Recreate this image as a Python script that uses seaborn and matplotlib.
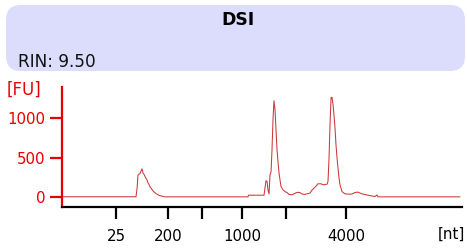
import matplotlib

matplotlib.use("Agg")
import matplotlib.pyplot as plt
import pandas as pd
import seaborn as sns
from matplotlib.patches import FancyBboxPatch

# Electropherogram trace: migration time [s] and fluorescence [FU]
time_s = [
    19.0, 28.25, 28.38, 28.5, 28.75, 28.88, 29.0, 29.13, 29.25, 29.38,
    29.5, 29.63, 29.75, 29.88, 30.0, 30.13, 30.25, 30.38, 30.5, 30.63,
    30.75, 31.0, 31.25, 31.5, 31.88, 42.25, 42.31, 44.25, 44.38, 44.5,
    44.63, 44.75, 44.88, 45.0, 45.13, 45.25, 45.38, 45.5, 45.63, 45.75,
    45.88, 46.0, 46.13, 46.25, 46.38, 46.63, 46.88, 47.13, 47.38, 47.75,
    48.25, 48.5, 48.75, 49.0, 49.38, 49.75, 50.0, 50.25, 50.5, 50.75,
    51.0, 51.38, 51.63, 51.88, 52.13, 52.25, 52.38, 52.5, 52.63, 52.75,
    52.88, 53.0, 53.13, 53.25, 53.38, 53.5, 53.63, 53.75, 54.0, 54.38,
    54.88, 55.25, 55.63, 56.0, 56.5, 57.0, 57.5, 58.13, 58.38, 58.5,
    68.75,
]
fluorescence = [
    5, 5, 110, 280, 300, 330, 360, 305, 290, 262,
    240, 220, 180, 160, 131, 115, 97, 80, 67, 55,
    46, 30, 20, 13, 4, 4, 25, 25, 120, 210,
    200, 93, 40, 283, 320, 600, 1000, 1225, 1110, 856,
    600, 453, 305, 220, 135, 93, 71, 58, 35, 30,
    55, 62, 58, 40, 35, 45, 51, 90, 115, 140,
    170, 170, 157, 160, 165, 200, 496, 920, 1266, 1270,
    1174, 1041, 878, 665, 496, 369, 242, 157, 71, 42,
    38, 40, 60, 64, 42, 30, 20, 8, 28, 4,
    4,
]
# ladder sizes [nt] and the migration times where they sit
ladder_time = [25.75, 32.25, 36.5, 41.5, 47.0, 54.5]
ladder_labels = ["25", "200", "", "1000", "", "4000"]
y_ticks = [0, 500, 1000]

sample_name = "DSI"
rin_text = "RIN: 9.50"

sns.set_style("white")
plt.rcParams["font.family"] = ["DejaVu Sans"]

df = pd.DataFrame({"time": time_s, "fu": fluorescence})

fig = plt.figure(figsize=(4.67, 2.5), dpi=100)
ax = fig.add_axes([62 / 467, 1 - 207 / 250, 400 / 467, 120 / 250])

# thin trace, like the instrument export
sns.lineplot(data=df, x="time", y="fu", ax=ax, color="#cc3838",
             linewidth=0.75, sort=False, estimator=None)

ax.set_xlim(19, 69)
ax.set_ylim(-125, 1400)
ax.set_xlabel("")
ax.set_ylabel("")

ax.set_yticks(y_ticks)
ax.set_yticklabels([str(v) for v in y_ticks])
ax.set_xticks(ladder_time)
ax.set_xticklabels(ladder_labels)

ax.spines["top"].set_visible(False)
ax.spines["right"].set_visible(False)
ax.spines["left"].set_color("#e80000")
ax.spines["left"].set_linewidth(1.6)
ax.spines["bottom"].set_color("black")
ax.spines["bottom"].set_linewidth(1.6)

ax.tick_params(axis="y", colors="#e80000", length=8.5, width=1.6,
               labelsize=10.8, pad=3.5, left=True)
ax.tick_params(axis="x", colors="black", length=8.5, width=1.6,
               labelsize=10.8, pad=7, bottom=True)
for lbl in ax.get_yticklabels():
    lbl.set_color("#e80000")

# header box
box = FancyBboxPatch((0.06 + 0.15, 1.79 + 0.15), 4.59 - 0.3, 0.66 - 0.3,
                     boxstyle="round,pad=0.15", transform=fig.dpi_scale_trans,
                     facecolor="#dcdcfc", edgecolor="none")
fig.patches.append(box)

fig.text(238 / 467, 1 - 20 / 250, sample_name, ha="center", va="center",
         fontsize=12.4, fontweight="bold", color="black")
fig.text(18 / 467, 1 - 67 / 250, rin_text, ha="left", va="baseline",
         fontsize=12.2, color="#111111")
fig.text(7 / 467, 1 - 90 / 250, "[FU]", ha="left", va="center",
         fontsize=12, color="#e80000")
fig.text(465 / 467, 1 - 234 / 250, "[nt]", ha="right", va="center",
         fontsize=10.8, color="black")

fig.savefig("out.png", dpi=100)
